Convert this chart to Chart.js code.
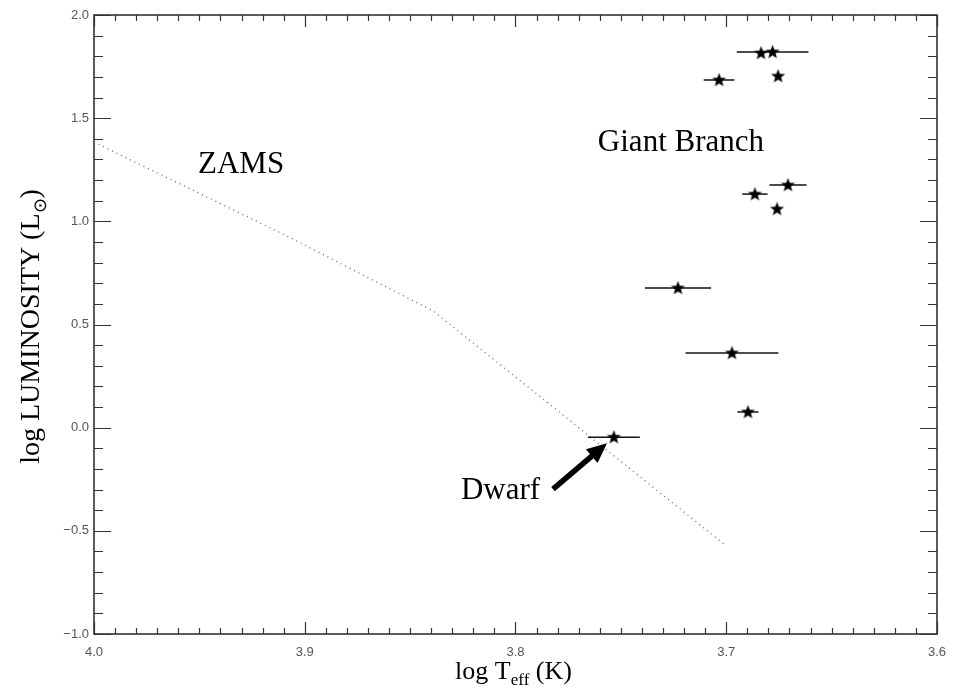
<!DOCTYPE html>
<html>
<head>
<meta charset="utf-8">
<script src="https://cdn.jsdelivr.net/npm/chart.js@4/dist/chart.umd.min.js"></script>
<style>
html, body { margin: 0; padding: 0; background: #fff; }
</style>
</head>
<body>
<canvas id="hrChart" width="961" height="699"></canvas>
<script>
// Observed stars: log Teff, log L, and the half-width of the Teff error bar
const logTeff = [3.6835, 3.6780, 3.6754, 3.7034, 3.6864, 3.6707, 3.6759, 3.7229, 3.6973, 3.6897, 3.7533];
const logLum  = [1.816, 1.821, 1.704, 1.685, 1.132, 1.176, 1.060, 0.677, 0.362, 0.076, -0.046];
const teffErr = [0, 0.017, 0, 0.0073, 0.006, 0.0088, 0, 0.0157, 0.022, 0.005, 0.0123];

// Zero-age main sequence track
const zamsTeff = [4.0, 3.9075, 3.839, 3.7011];
const zamsLum  = [1.384, 0.924, 0.565, -0.564];

// Axis tick labels
const xTicks = [4.0, 3.9, 3.8, 3.7, 3.6];
const yTicks = [-1.0, -0.5, 0.0, 0.5, 1.0, 1.5, 2.0];

// Text notes (centre x, baseline y in data units) and the arrow to the dwarf
const noteText = ['ZAMS', 'Giant Branch', 'Dwarf'];
const noteTeff = [3.9302, 3.7215, 3.8071];
const noteLum  = [1.234, 1.343, -0.346];
const arrowTeff = [3.7822, 3.7566];
const arrowLum  = [-0.298, -0.075];

const SERIF = '"Liberation Serif", "Times New Roman", serif';
const NOTE_FONT = '31px ' + SERIF;

// filled five-pointed star used as the point marker
function makeStar() {
    const c = document.createElement('canvas');
    c.width = 17; c.height = 17;
    const g = c.getContext('2d');
    const R = 7.4, r = 3.1;
    g.beginPath();
    for (let i = 0; i < 10; i++) {
        const a = -Math.PI / 2 + i * Math.PI / 5;
        const rad = i % 2 === 0 ? R : r;
        const px = 8.5 + rad * Math.cos(a), py = 8.8 + rad * Math.sin(a);
        if (i === 0) g.moveTo(px, py); else g.lineTo(px, py);
    }
    g.closePath();
    g.fillStyle = '#000';
    g.fill();
    return c;
}
const starImg = makeStar();

const fmt = v => (v < 0 ? '\u2212' + Math.abs(v).toFixed(1) : v.toFixed(1));

const datasets = [{
    type: 'scatter',
    label: 'stars',
    data: logTeff.map((t, i) => ({ x: t, y: logLum[i] })),
    pointStyle: starImg,
    order: 0
}];

logTeff.forEach((t, i) => {
    if (teffErr[i] > 0) {
        datasets.push({
            type: 'line',
            data: [{ x: t - teffErr[i], y: logLum[i] }, { x: t + teffErr[i], y: logLum[i] }],
            borderColor: '#111',
            borderWidth: 1.5,
            pointRadius: 0,
            order: 1
        });
    }
});

datasets.push({
    type: 'line',
    label: 'ZAMS',
    data: zamsTeff.map((t, i) => ({ x: t, y: zamsLum[i] })),
    borderColor: '#666',
    borderWidth: 1.3,
    borderDash: [1, 4],
    pointRadius: 0,
    tension: 0,
    order: 2
});

// frame with inward major/minor ticks on all four sides
const framePlugin = {
    id: 'frame',
    beforeDatasetsDraw(chart) {
        const { ctx, chartArea: a, scales: { x, y } } = chart;
        ctx.save();
        ctx.strokeStyle = '#333';
        ctx.lineWidth = 1.2;
        ctx.beginPath();
        for (let k = 0; k <= 40; k++) {
            const px = Math.round(x.getPixelForValue(3.6 + k * 0.01)) + 0.5;
            const len = k % 10 === 0 ? 12 : 6;
            ctx.moveTo(px, a.bottom); ctx.lineTo(px, a.bottom - len);
            ctx.moveTo(px, a.top); ctx.lineTo(px, a.top + len);
        }
        for (let k = 0; k <= 30; k++) {
            const py = Math.round(y.getPixelForValue(-1 + k * 0.1)) + 0.5;
            const len = k % 5 === 0 ? 17 : 9;
            ctx.moveTo(a.left, py); ctx.lineTo(a.left + len, py);
            ctx.moveTo(a.right, py); ctx.lineTo(a.right - len, py);
        }
        ctx.stroke();
        ctx.lineWidth = 1.6;
        ctx.strokeRect(a.left, a.top, a.right - a.left, a.bottom - a.top);
        ctx.restore();
    }
};

// text runs with subscripts: size is the main font size
function partsWidth(ctx, parts, size) {
    let w = 0;
    parts.forEach(p => {
        ctx.font = Math.round(p.sub ? size * 0.66 : size) + 'px ' + SERIF;
        w += ctx.measureText(p.t).width;
    });
    return w;
}
function drawParts(ctx, parts, x0, y0, size) {
    let xx = x0;
    parts.forEach(p => {
        ctx.font = Math.round(p.sub ? size * 0.66 : size) + 'px ' + SERIF;
        ctx.fillText(p.t, xx, y0 + (p.sub ? size * 0.24 : 0));
        xx += ctx.measureText(p.t).width;
    });
}

// notes, arrow and axis titles
const notesPlugin = {
    id: 'notes',
    afterDraw(chart) {
        const { ctx, chartArea: a, scales: { x, y } } = chart;
        ctx.save();
        ctx.fillStyle = '#000';
        ctx.textAlign = 'center';
        ctx.textBaseline = 'alphabetic';
        ctx.font = NOTE_FONT;
        noteText.forEach((t, i) => {
            ctx.fillText(t, x.getPixelForValue(noteTeff[i]), y.getPixelForValue(noteLum[i]));
        });

        // arrow
        const x1 = x.getPixelForValue(arrowTeff[0]), y1 = y.getPixelForValue(arrowLum[0]);
        const x2 = x.getPixelForValue(arrowTeff[1]), y2 = y.getPixelForValue(arrowLum[1]);
        const ang = Math.atan2(y2 - y1, x2 - x1);
        const head = 20, half = 9;
        const bx = x2 - head * Math.cos(ang), by = y2 - head * Math.sin(ang);
        ctx.strokeStyle = '#000';
        ctx.lineWidth = 5.5;
        ctx.beginPath();
        ctx.moveTo(x1, y1);
        ctx.lineTo(bx + 2 * Math.cos(ang), by + 2 * Math.sin(ang));
        ctx.stroke();
        ctx.beginPath();
        ctx.moveTo(x2, y2);
        ctx.lineTo(bx + half * Math.sin(ang), by - half * Math.cos(ang));
        ctx.lineTo(bx - half * Math.sin(ang), by + half * Math.cos(ang));
        ctx.closePath();
        ctx.fill();

        // axis titles
        ctx.textAlign = 'left';
        const xt = [{ t: 'log T' }, { t: 'eff', sub: true }, { t: ' (K)' }];
        const xw = partsWidth(ctx, xt, 26);
        drawParts(ctx, xt, (a.left + a.right) / 2 - 2 - xw / 2, 679, 26);

        const yt = [{ t: 'log LUMINOSITY (L' }, { t: '\u2299', sub: true }, { t: ')' }];
        const yw = partsWidth(ctx, yt, 28);
        ctx.translate(39, (a.top + a.bottom) / 2 + 2);
        ctx.rotate(-Math.PI / 2);
        drawParts(ctx, yt, -yw / 2, 0, 28);
        ctx.restore();
    }
};

new Chart(document.getElementById('hrChart'), {
    type: 'scatter',
    data: { datasets: datasets },
    options: {
        responsive: false,
        animation: false,
        devicePixelRatio: 1,
        layout: { padding: { top: 15, right: 24, left: 0, bottom: 0 } },
        plugins: { legend: { display: false }, tooltip: { enabled: false } },
        scales: {
            x: {
                type: 'linear',
                reverse: true,
                min: 3.6,
                max: 4.0,
                afterBuildTicks: s => { s.ticks = xTicks.map(v => ({ value: v })); },
                afterFit: s => { s.height = 65; },
                grid: { display: false, drawTicks: false },
                border: { display: false },
                ticks: {
                    callback: v => fmt(v),
                    padding: 11,
                    color: '#555',
                    font: { family: '"Liberation Sans", Arial, sans-serif', size: 13 }
                }
            },
            y: {
                type: 'linear',
                min: -1.0,
                max: 2.0,
                afterBuildTicks: s => { s.ticks = yTicks.map(v => ({ value: v })); },
                afterFit: s => { s.width = 94; },
                grid: { display: false, drawTicks: false },
                border: { display: false },
                ticks: {
                    callback: v => fmt(v),
                    padding: 5,
                    color: '#555',
                    font: { family: '"Liberation Sans", Arial, sans-serif', size: 13 }
                }
            }
        }
    },
    plugins: [framePlugin, notesPlugin]
});
</script>
</body>
</html>
